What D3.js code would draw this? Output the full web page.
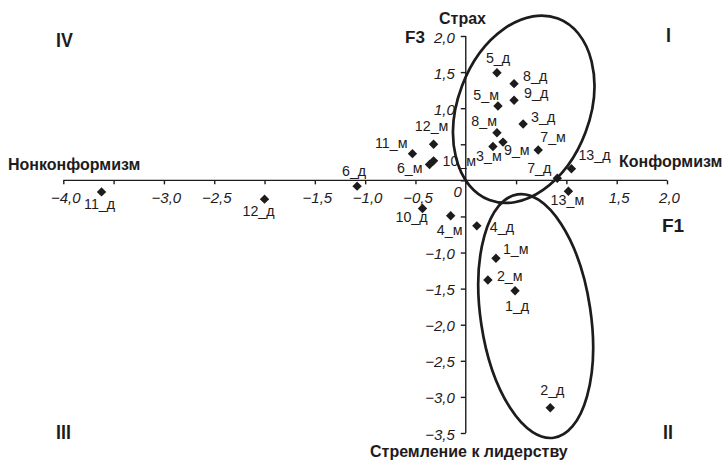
<!DOCTYPE html>
<html><head><meta charset="utf-8">
<script src="https://cdn.jsdelivr.net/npm/d3@7"></script>
<style>
html,body{margin:0;padding:0;background:#fff;}
text{font-family:"Liberation Sans",Arial,sans-serif;fill:#1e1b1c;}
.b{font-weight:bold;}
.t{font-style:italic;font-size:15px;}
.p{font-size:15.5px;}
</style></head>
<body>
<script>
// ---- data ----
const names = ["5_д","8_д","5_м","9_д","3_д","8_м","9_м","3_м","7_м","13_д","7_д","13_м",
               "12_м","11_м","6_м","10_м","10_д","4_м","4_д","1_м","2_м","1_д","2_д",
               "11_д","12_д","6_д"];
const f1 = [0.31,0.48,0.32,0.48,0.57,0.31,0.37,0.27,0.72,1.05,0.91,1.02,
            -0.32,-0.53,-0.36,-0.32,-0.43,-0.15,0.11,0.30,0.22,0.49,0.84,
            -3.62,-2.00,-1.08];
const f3 = [1.49,1.34,1.03,1.11,0.78,0.66,0.53,0.47,0.42,0.16,0.03,-0.15,
            0.50,0.37,0.22,0.27,-0.39,-0.49,-0.63,-1.08,-1.38,-1.53,-3.15,
            -0.16,-0.26,-0.08];
const xTicks = [-4,-3.5,-3,-2.5,-2,-1.5,-1,-0.5,0,0.5,1,1.5,2];
const yTicks = [2,1.5,1,0.5,0,-0.5,-1,-1.5,-2,-2.5,-3,-3.5];
const xTickLabels = ["−4,0","","−3,0","−2,5","","−1,5","−1,0","−0,5","","","","1,5","2,0"];
const yTickLabels = ["2,0","1,5","1,0","","","","−1,0","−1,5","−2,0","−2,5","−3,0","−3,5"];
const clusterNames = ["upper","lower"];
const clusterCx = [0.576, 0.695];
const clusterCy = [0.985, -1.88];

// ---- layout ----
const W = 722, H = 460;
const svg = d3.select("body").append("svg").attr("width",W).attr("height",H);
const x = d3.scaleLinear().domain([-4,2]).range([63.3,667]);
const y = d3.scaleLinear().domain([2,-3.5]).range([36,433]);
const X0 = x(0), Y0 = y(0);

// ellipses
const ellShape = {upper:{a:97,b:66,rot:20.7}, lower:{a:123,b:55,rot:-8.5}};
clusterNames.forEach((n,i)=>{
  const s = ellShape[n];
  svg.append("ellipse")
    .attr("transform",`translate(${x(clusterCx[i])},${y(clusterCy[i])}) rotate(${s.rot})`)
    .attr("rx",s.b).attr("ry",s.a)
    .attr("fill","none").attr("stroke","#1e1b1c").attr("stroke-width",2.7);
});

// axes
const xAxis = d3.axisBottom(x).tickValues(xTicks).tickSize(4).tickPadding(8)
  .tickFormat((d,i)=>xTickLabels[i]);
const gx = svg.append("g").attr("transform",`translate(0,${Y0})`).call(xAxis);
const yAxis = d3.axisLeft(y).tickValues(yTicks).tickSize(5).tickPadding(6)
  .tickFormat((d,i)=>yTickLabels[i]);
const gy = svg.append("g").attr("transform",`translate(${X0},0)`).call(yAxis);
[gx,gy].forEach(g=>{
  g.attr("font-family",null).attr("font-size",null);
  g.select(".domain").attr("stroke","#1e1b1c").attr("stroke-width",1.4);
  g.selectAll(".tick line").attr("stroke","#1e1b1c").attr("stroke-width",1.4);
  g.selectAll(".tick text").attr("class","t").attr("fill","#1e1b1c");
});
gx.select(".domain").attr("d",`M${x(-4)},0H${x(2)}`);
gy.select(".domain").attr("d",`M0,${y(2)}V${y(-3.5)}`);
gx.selectAll(".tick text").attr("dy","0.71em").attr("dx",2);
gy.selectAll(".tick text").attr("dy","0.4em");
// origin label
svg.append("text").attr("class","t").attr("x",X0-4).attr("y",Y0+17)
  .attr("text-anchor","end").text("0");

// points
const diamond = "M0,-4.7L4.7,0L0,4.7L-4.7,0Z";
svg.append("g").selectAll("path").data(names).join("path")
  .attr("d",diamond)
  .attr("transform",(d,i)=>`translate(${x(f1[i])},${y(f3[i])})`)
  .attr("fill","#1e1b1c");

// point labels: anchor, dx, dy (baseline offset from marker)
const place = {
 "5_д":["middle",1,-10],"8_д":["start",9,-3],"5_м":["end",1,-6],"9_д":["start",10,-2],
 "3_д":["start",8,-2],"8_м":["end",0,-7],"9_м":["start",1,13],"3_м":["middle",-4,15],
 "7_м":["start",2,-8],"13_д":["start",7,-9],"7_д":["end",-6,-5],"13_м":["middle",-1,14],
 "12_м":["middle",-2,-13],"11_м":["end",-5,-6],"6_м":["end",-7,9],"10_м":["start",9,5],
 "10_д":["middle",-11,13],"4_м":["middle",-1,19],"4_д":["start",13,6],"1_м":["start",7,-4],
 "2_м":["start",9,1],"1_д":["middle",2,20],"2_д":["middle",2,-13],
 "11_д":["middle",-2,17],"12_д":["middle",-6,17],"6_д":["middle",-3,-10]
};
svg.append("g").selectAll("text").data(names).join("text")
  .attr("class","p")
  .attr("transform",(d,i)=>`translate(${x(f1[i])+place[d][1]},${y(f3[i])+place[d][2]}) scale(0.92,1)`)
  .attr("text-anchor",d=>place[d][0])
  .text(d=>d);

// titles
const T = (t,xx,yy,size,anchor,sx)=>svg.append("text").attr("class","b")
  .attr("transform",`translate(${xx},${yy}) scale(${sx||1},1)`)
  .attr("font-size",size).attr("text-anchor",anchor||"start").text(t);
T("Страх",439,24,16);
T("F3",405,43,17);
T("Нонконформизм",8,170,16);
T("Конформизм",619,167,16);
T("F1",662,232,19);
T("Стремление к лидерству",370,457,16);
T("IV",56,47,21,"start",0.85);
T("I",666,42,21,"start",0.85);
T("III",56,439,21,"start",0.85);
T("II",663,439,21,"start",0.85);
</script>
</body></html>
